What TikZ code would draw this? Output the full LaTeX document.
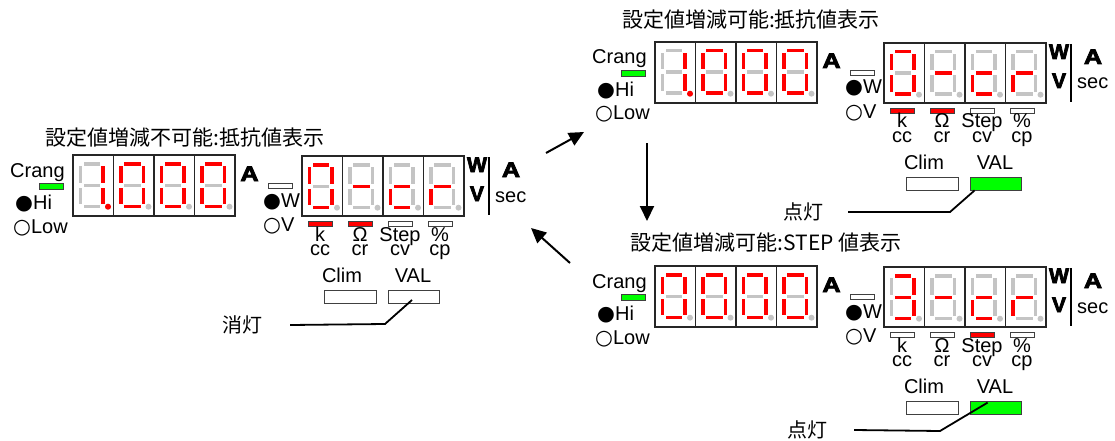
\documentclass[tikz,border=0pt]{standalone}
\usepackage{fontspec}
\setmainfont{Liberation Sans}
\newfontfamily\jpfont{Noto Sans CJK JP}
\newfontfamily\symfont{DejaVu Sans}
\newfontfamily\unitfont{Liberation Sans Bold}[FakeBold=3.5]
\usetikzlibrary{arrows.meta,calc}

\definecolor{segred}{RGB}{255,0,0}
\definecolor{seggray}{RGB}{196,196,196}
\definecolor{lampgreen}{RGB}{0,255,0}

\newcommand{\onmark}{{\symfont\fontsize{20.5}{24}\selectfont ●}}
\newcommand{\offmark}{{\symfont\fontsize{20.5}{24}\selectfont ○}}

% one cell of a 7-segment display, origin = top left corner of the cell
\tikzset{
  seg a/.style={insert path={(10.7,7) rectangle (27.3,10.5)}},
  seg b/.style={insert path={(28.3,11) rectangle (31.8,27.5)}},
  seg c/.style={insert path={(28.3,32.5) rectangle (31.8,49)}},
  seg d/.style={insert path={(10.7,49.5) rectangle (27.3,53)}},
  seg e/.style={insert path={(5.7,32.5) rectangle (9.2,49)}},
  seg f/.style={insert path={(5.7,11) rectangle (9.2,27.5)}},
  seg g/.style={insert path={(10.7,28.5) rectangle (27.3,32)}},
  seg p/.style={insert path={(35,51.7) circle (3)}},
  pics/panel/.style n args={4}{code={
    % range lamps
    \node[lbl] (-crang) at (-63,22) {Crang};
    \draw[lampframe,fill=lampgreen] (-34,28) rectangle (-10,34);
    \node[lbl] (-hi) at (-58,54) {\onmark Hi};
    \node[lbl] (-low) at (-60,78) {\offmark Low};
    % current display
    \foreach \d [count=\i from 0] in {#1} {
      \foreach \s in {a,b,c,d,e,f,g,p} \fill[seggray,shift={(40.5*\i,0)},seg \s];
      \foreach \s in \d \fill[segred,shift={(40.5*\i,0)},seg \s];
    }
    \draw[dispframe] (0,0) rectangle (162,61);
    \foreach \i in {1,2,3} \draw[dispframe] (40.5*\i,0) -- (40.5*\i,61);
    \node[unit,xscale=1.2] (-amp) at (176.5,26) {A};
    % power display
    \draw[lampframe,fill=white] (195,28) rectangle (219,33);
    \node[lbl] (-w) at (190,52) {\onmark W};
    \node[lbl] (-v) at (190,76) {\offmark V};
    \foreach \d [count=\i from 0] in {#2} {
      \foreach \s in {a,b,c,d,e,f,g,p} \fill[seggray,shift={(229+40.5*\i,1)},seg \s];
      \foreach \s in \d \fill[segred,shift={(229+40.5*\i,1)},seg \s];
    }
    \draw[dispframe] (229,1) rectangle (391,61);
    \foreach \i in {1,2,3} \draw[dispframe] (229+40.5*\i,1) -- (229+40.5*\i,61);
    \foreach \c [count=\i from 0] in {#3}
      \draw[lampframe,fill=\c] (235+40*\i,66) rectangle ++(24,5);
    \foreach \t/\b [count=\i from 0] in {k/cc,Ω/cr,Step/cv,\%/cp} {
      \node[anchor=base] (-top\i) at (247+40*\i,86) {\t};
      \node[anchor=base] (-bot\i) at (247+40*\i,100) {\b};
    }
    \node[unit] (-wu) at (404,17) {W};
    \node[unit] (-vu) at (404,46) {V};
    \draw[line width=1.8pt] (416,2) -- (416,60);
    \node[unit,xscale=1.2] (-au) at (438,22) {A};
    \node[lbl] (-sec) at (422,47) {sec};
    % Clim / VAL
    \node[anchor=base] (-clim) at (269,127) {Clim};
    \node[anchor=base] (-val) at (340,127) {VAL};
    \node[lampframe,fill=white,minimum width=52,minimum height=13] (-climbox) at (277,141.5) {};
    \node[lampframe,fill=#4,minimum width=51,minimum height=13] (-valbox) at (340.5,141.5) {};
  }}
}

\begin{document}
\begin{tikzpicture}[x=1pt,y=-1pt,
    every node/.style={font=\fontsize{20}{24}\selectfont,inner sep=0pt},
    lbl/.style={anchor=base west},
    unit/.style={anchor=base,font=\unitfont\fontsize{21}{24}\selectfont},
    ttl/.style={font=\jpfont\fontsize{21}{24}\selectfont},
    note/.style={font=\jpfont\fontsize{20}{24}\selectfont},
    dispframe/.style={line width=1.5pt,black!85},
    lampframe/.style={draw=black!75,line width=0.8pt},
    callout/.style={line width=1.8pt},
    step arrow/.style={line width=2pt,-{Triangle[length=15pt,width=14pt]}}]
  \useasboundingbox (0,0) rectangle (1115,441);

  % left: not adjustable, resistance shown
  \node[ttl] (t1) at (185,138) {設定値増減不可能:抵抗値表示};
  \pic (p1) at (73,155) {panel={{b,c,p},{a,b,c,d,e,f},{a,b,c,d,e,f},{a,b,c,d,e,f}}%
    {{a,b,c,d,e,f},{g},{d,e,g},{e,g}}{segred,segred,white,white}{white}};
  \node[note] (off) at (242,325) {消灯};
  \coordinate (offknee) at (385,324);
  \draw[callout] ([xshift=28pt]off.east) -- (offknee) -- ($(p1-valbox.center)+(-1.5,3.5)$);

  % top right: adjustable, resistance shown
  \node[ttl] (t2) at (751,20) {設定値増減可能:抵抗値表示};
  \pic (p2) at (655,42) {panel={{b,c,p},{a,b,c,d,e,f},{a,b,c,d,e,f},{a,b,c,d,e,f}}%
    {{a,b,c,d,e,f},{g},{d,e,g},{e,g}}{segred,segred,white,white}{lampgreen}};
  \node[note] (on1) at (803,212) {点灯};
  \coordinate (on1knee) at (950,212);
  \draw[callout] ([xshift=25pt]on1.east) -- (on1knee) -- ($(p2-valbox.south west)+(5,0)$);

  % bottom right: adjustable, STEP shown
  \node[ttl] (t3) at (766,243) {設定値増減可能:STEP 値表示};
  \pic (p3) at (655,266) {panel={{a,b,c,d,e,f},{a,b,c,d,e,f},{a,b,c,d,e,f},{a,b,c,d,e,f}}%
    {{a,b,c,d,g},{g},{d,e,g},{e,g}}{white,white,segred,white}{lampgreen}};
  \node[note] (on2) at (807,430) {点灯};
  \coordinate (on2knee) at (940,431);
  \draw[callout] ([xshift=27pt]on2.east) -- (on2knee) -- ($(p3-valbox.north west)+(18,2)$);

  % transitions
  \coordinate (go1s) at (546,153);
  \coordinate (go1e) at (584,132);
  \coordinate (go2s) at (647,143);
  \coordinate (go2e) at (647,221);
  \coordinate (go3s) at (570,263);
  \coordinate (go3e) at (531,228);
  \draw[step arrow] (go1s) -- (go1e);
  \draw[step arrow] (go2s) -- (go2e);
  \draw[step arrow] (go3s) -- (go3e);
\end{tikzpicture}
\end{document}
